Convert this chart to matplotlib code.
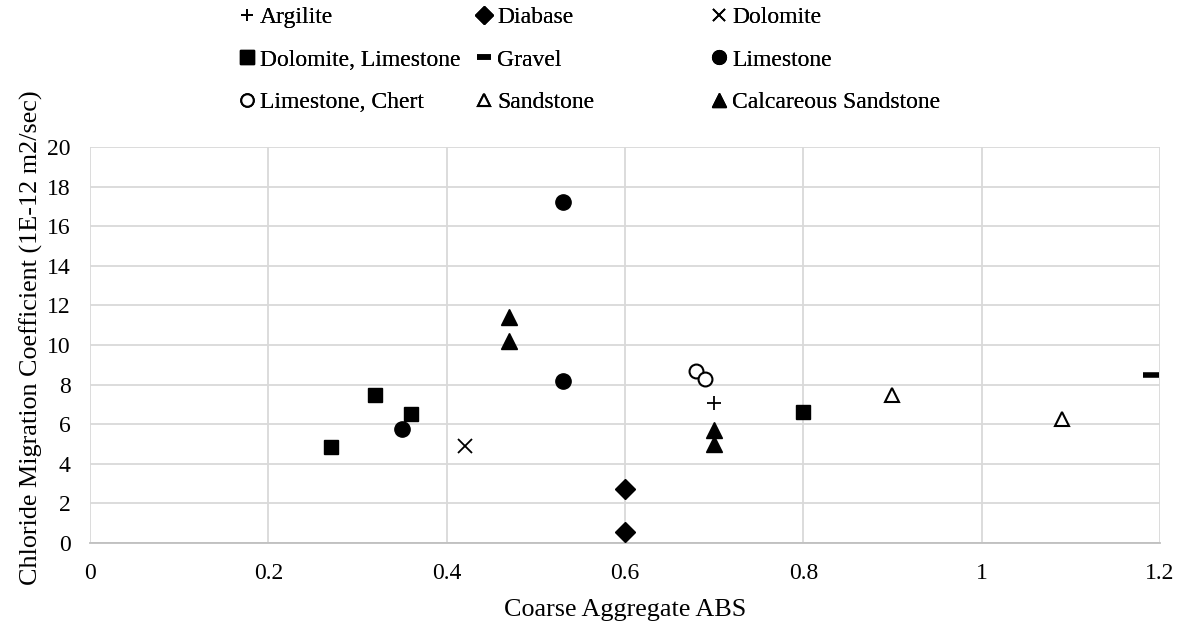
import matplotlib.pyplot as plt
from matplotlib.lines import Line2D

plt.rcParams["font.family"] = ["Liberation Serif", "DejaVu Serif"]

# データ (骨材の吸水率と塩化物移動係数)
argilite_x = [0.70]
argilite_y = [7.05]
diabase_x = [0.60, 0.60]
diabase_y = [2.75, 0.55]
dolomite_x = [0.42]
dolomite_y = [4.9]
dol_lime_x = [0.27, 0.32, 0.36, 0.80]
dol_lime_y = [4.85, 7.48, 6.5, 6.63]
gravel_x = [1.19]
gravel_y = [8.5]
limestone_x = [0.35, 0.53, 0.53]
limestone_y = [5.75, 17.22, 8.2]
lime_chert_x = [0.68, 0.69]
lime_chert_y = [8.7, 8.3]
sandstone_x = [0.90, 1.09]
sandstone_y = [7.5, 6.28]
calc_sand_x = [0.47, 0.47, 0.70, 0.70]
calc_sand_y = [11.42, 10.2, 5.7, 5.02]

series = [
    ("Argilite", argilite_x, argilite_y, dict(marker="+", ms=10, mew=1.3, color="black")),
    ("Diabase", diabase_x, diabase_y, dict(marker="D", ms=10, color="black")),
    ("Dolomite", dolomite_x, dolomite_y, dict(marker="x", ms=9.5, mew=1.3, color="black")),
    ("Dolomite, Limestone", dol_lime_x, dol_lime_y, dict(marker="s", ms=10.5, color="black")),
    ("Gravel", gravel_x, gravel_y, dict(marker="_", ms=11, mew=4, color="black")),
    ("Limestone", limestone_x, limestone_y, dict(marker="o", ms=11, color="black")),
    ("Limestone, Chert", lime_chert_x, lime_chert_y,
     dict(marker="o", ms=10, mfc="white", mec="black", mew=1.5)),
    ("Sandstone", sandstone_x, sandstone_y,
     dict(marker="^", ms=10, mfc="white", mec="black", mew=1.5)),
    ("Calcareous Sandstone", calc_sand_x, calc_sand_y, dict(marker="^", ms=11, color="black")),
]

fig = plt.figure(figsize=(11.88, 6.25), dpi=100)
ax = fig.add_axes([0.0758, 0.1312, 0.9006, 0.6336])

handles = []
for name, xs, ys, style in series:
    ax.plot(xs, ys, linestyle="none", zorder=3, clip_on=False, **style)
    legend_style = dict(style)
    legend_style["ms"] = style["ms"] * 0.9
    handles.append(Line2D([], [], linestyle="none", label=name, **legend_style))

ax.set_xlim(0, 1.2)
ax.set_ylim(0, 20)
ax.set_xticks([0, 0.2, 0.4, 0.6, 0.8, 1, 1.2])
ax.set_xticklabels(["0", "0.2", "0.4", "0.6", "0.8", "1", "1.2"])
ax.set_yticks(range(0, 21, 2))
ax.grid(True, color="#d9d9d9", linewidth=1.3)
ax.set_axisbelow(True)
for side in ["top", "right", "left"]:
    ax.spines[side].set_visible(False)
ax.spines["bottom"].set_color("#bfbfbf")
ax.spines["bottom"].set_linewidth(1.3)
ax.tick_params(length=0, labelsize=17)
ax.tick_params(axis="x", pad=14.5)
ax.tick_params(axis="y", pad=14)
ax.set_xlabel("Coarse Aggregate ABS", fontsize=18.8, labelpad=11)
ax.set_ylabel("Chloride Migration Coefficient (1E-12 m2/sec)", fontsize=18.8, labelpad=3)
ax.yaxis.label.set_y(0.518)

# 凡例 (行ごとに並べるため列ごとに分ける)
col_x = [240, 477, 712]
for c in range(3):
    col_handles = [handles[c], handles[c + 3], handles[c + 6]]
    leg = fig.legend(handles=col_handles, loc="upper left",
                     bbox_to_anchor=(col_x[c] / 1188, 0.9896), frameon=False,
                     fontsize=17, handlelength=0.6, handletextpad=0.25,
                     labelspacing=0.89, borderpad=0, borderaxespad=0)
    fig.add_artist(leg)

fig.savefig("out.png", dpi=100)
